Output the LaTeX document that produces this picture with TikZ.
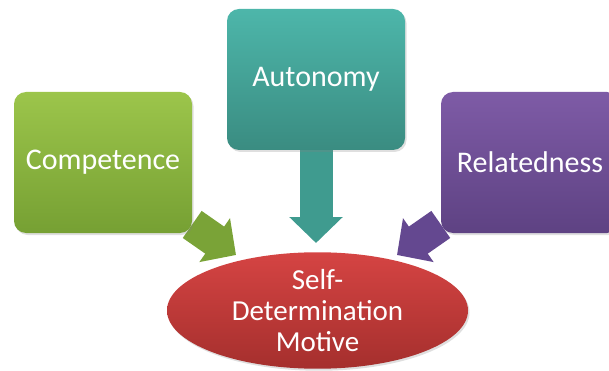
\documentclass[tikz,border=0pt]{standalone}
\usepackage{fontspec}
\setmainfont{Carlito}
\usetikzlibrary{arrows.meta,shapes.geometric,shadows,backgrounds}
\definecolor{comptop}{HTML}{9CC54B}
\definecolor{compbot}{HTML}{76A033}
\definecolor{compline}{HTML}{7AA337}
\definecolor{autotop}{HTML}{4DB6AA}
\definecolor{autobot}{HTML}{3A8C81}
\definecolor{autoline}{HTML}{3F9B8F}
\definecolor{reltop}{HTML}{7E5BA6}
\definecolor{relbot}{HTML}{5E4283}
\definecolor{relline}{HTML}{644890}
\definecolor{motivetop}{HTML}{D54443}
\definecolor{motivebot}{HTML}{A52F2D}
\tikzset{
  needbox/.style={rounded corners=12pt, minimum width=178pt, minimum height=141pt, inner sep=0pt,
    text=white, font=\fontsize{30}{36}\selectfont,
    drop shadow={shadow xshift=1.5pt, shadow yshift=-2pt, opacity=0.25}},
  motive/.style={ellipse, minimum width=301pt, minimum height=115pt, inner sep=0pt,
    top color=motivetop, bottom color=motivebot, text=white, align=center,
    font=\fontsize{29}{31}\selectfont,
    drop shadow={shadow xshift=1.5pt, shadow yshift=-2pt, opacity=0.25}},
  blockarrow/.style={line width=33pt, -{Triangle[length=26pt,width=52pt]}}
}
\newcommand{\need}[5]{%
  \node[needbox, top color=#3, bottom color=#4] (#1) at (#2) {#5};}

\begin{document}
\begin{tikzpicture}[x=1pt,y=-1pt]
\useasboundingbox (0,0) rectangle (609,371);

% the three needs
\need{comp}{103,162.5}{comptop}{compbot}{Competence}
\need{auto}{316,79.5}{autotop}{autobot}{Autonomy}
\need{rel}{530,162.5}{reltop}{relbot}{Relatedness}

% motive
\node[motive] (sdm) at (317.5,310.5) {Self-\\Determination\\Motive};

% arrow tips
\coordinate (comptip) at (236,255);
\coordinate (autotip) at (316,243);
\coordinate (reltip) at (397,255);

\begin{scope}[on background layer]
\draw[blockarrow, compline] (comp) -- (comptip);
\draw[blockarrow, autoline] (auto) -- (autotip);
\draw[blockarrow, relline] (rel) -- (reltip);
\end{scope}

\end{tikzpicture}
\end{document}
